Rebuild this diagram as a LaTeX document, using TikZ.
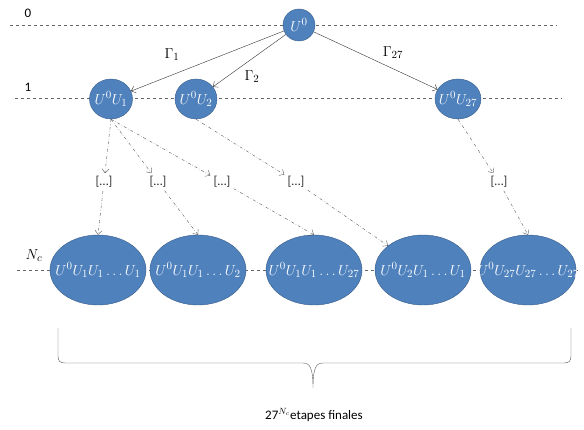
\documentclass[tikz,border=0pt]{standalone}
\usepackage{amsmath}
\usepackage{fontspec}
\setmainfont{Carlito}
\usepackage{xcolor}
\usetikzlibrary{shapes.geometric,arrows.meta}

\definecolor{nodeblue}{HTML}{4F81BD}
\definecolor{nodeedge}{HTML}{385D8A}

\begin{document}
\begin{tikzpicture}[
				x=1pt,y=-1pt,
				font=\fontsize{13}{15}\selectfont,
				state/.style={
					ellipse,
					draw=nodeedge,
					fill=nodeblue,
					inner sep=0pt
				},
				inside/.style={
					text=white,
					inner sep=0pt,
					font=\fontsize{15}{17}\selectfont
				},
				final/.style={
					state,
					minimum width=96,
					minimum height=70
				},
				level/.style={
					dashed,
					gray!80!black,
					thin
				},
				dots/.style={
					fill=white,
					inner sep=3pt,
					text=black!80
				},
				arrow/.style={
					-{Straight Barb[length=4pt,width=7pt]},
					gray!40!black,
					thin
				},
				branch/.style={
					-{Straight Barb[length=4pt,width=7pt]},
					dash dot,
					gray!70!black,
					thin
				},
				mathlabel/.style={
					font=\fontsize{15}{17}\selectfont
				}
			]
			\useasboundingbox (0,0) rectangle (584,430);
			% Levels
			\draw[level] (10,25) -- (557,25);
			\draw[level] (15,98) -- (562,98);
			\draw[level] (17,270) -- (580,270);
			\node (lev0) at (28,13) {0};
			\node (lev1) at (28,87) {1};
			\node[mathlabel] (levn) at (34,256) {$N_c$};
			
			% Nodes
			\node[state, minimum width=32, minimum height=32,
				label={[inside]center:$U^0$}] (root) at (299,25) {};
			\node[state, minimum width=43, minimum height=40,
				label={[inside]center:$U^0U_1$}] (l1a) at (111,99) {};
			\node[state, minimum width=42, minimum height=40,
				label={[inside]center:$U^0U_2$}] (l1b) at (196,99) {};
			\node[state, minimum width=46, minimum height=40,
				label={[inside]center:$U^0U_{27}$}] (l1c) at (458,99) {};
			
			\node[dots] (d1) at (104,182) {[…]};
			\node[dots] (d2) at (158,182) {[…]};
			\node[dots] (d3) at (222,182) {[…]};
			\node[dots] (d4) at (296,182) {[…]};
			\node[dots] (d5) at (499,182) {[…]};
			
			\node[final, label={[inside]center:$U^0U_1U_1\ldots U_1$}] (f1) at (98,270) {};
			\node[final, label={[inside]center:$U^0U_1U_1\ldots U_2$}] (f2) at (198,270) {};
			\node[final, label={[inside]center:$U^0U_1U_1\ldots U_{27}$}] (f3) at (314,270) {};
			\node[final, label={[inside]center:$U^0U_2U_1\ldots U_1$}] (f4) at (423,270) {};
			\begin{scope}
				\clip (478,230) rectangle (576,310);
				\node[final, label={[inside]center:$U^0U_{27}U_{27}\ldots U_{27}$}] (f5) at (528,270) {};
			\end{scope}
			
			% Connectors
			\draw[arrow] (root) -- (l1a);
			\draw[arrow] (root) -- (l1b);
			\draw[arrow] (root) -- (l1c);
			\node[mathlabel] (g1) at (172,55) {$\Gamma_1$};
			\node[mathlabel] (g2) at (252,77) {$\Gamma_2$};
			\node[mathlabel] (g27) at (393,53) {$\Gamma_{27}$};
			
			\draw[branch] (l1a.south) -- (d1);
			\draw[branch] (l1a.south) -- (d2);
			\draw[branch] (l1a.south) -- (d3);
			\draw[branch] (l1b.south) -- (d4);
			\draw[branch] (l1c.south) -- (d5);
			\draw[branch] (d1) -- (f1.north);
			\draw[branch] (d2) -- (f2.north);
			\draw[branch] (d3) -- (f3.north);
			\draw[branch] (d4) -- (f4);
			\draw[branch] (d5) -- (f5.north);
			
			% Brace
			\draw[gray!70!black] (58,328) -- (58,356) .. controls (58,361) and (60,363) .. (65,363)
				-- (303,363) .. controls (310,363) and (313,368) .. (313,388)
				.. controls (313,368) and (316,363) .. (323,363)
				-- (564,363) .. controls (569,363) and (571,361) .. (571,356) -- (571,328);
			\node (total) at (314,415) {27$^{N_c}$etapes finales};
		\end{tikzpicture}
\end{document}
